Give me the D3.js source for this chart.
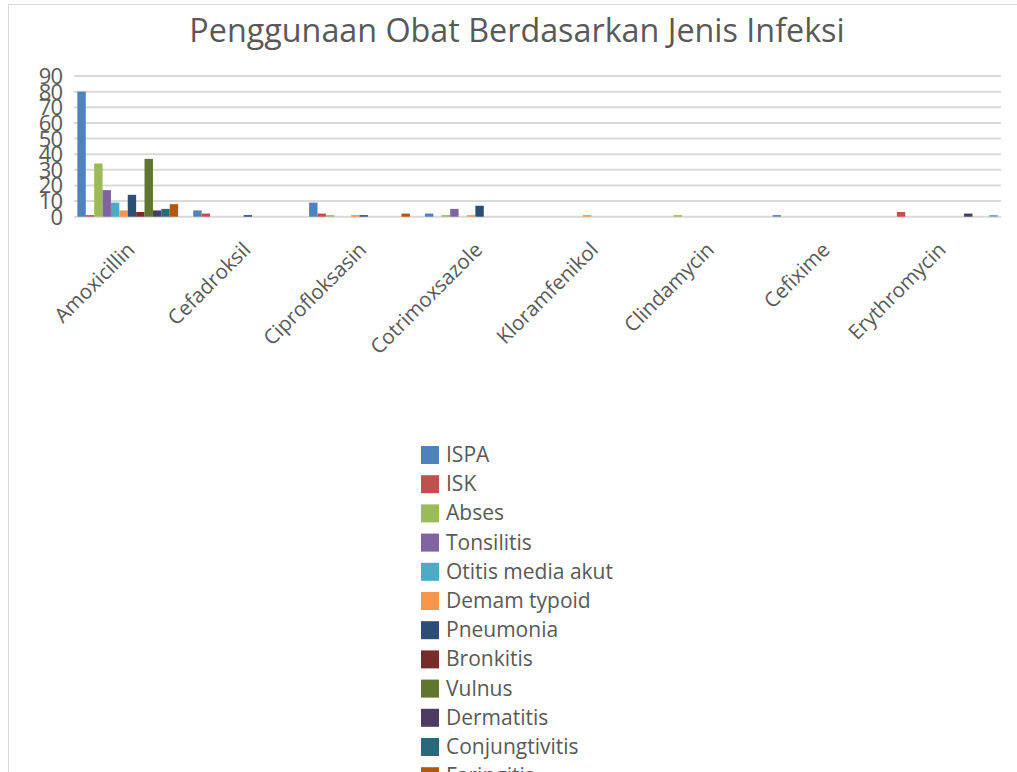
<!DOCTYPE html>
<html>
<head>
<meta charset="utf-8">
<script src="https://cdn.jsdelivr.net/npm/d3@7"></script>
<style>
  body { margin: 0; background: #fff; overflow: hidden; }
  text { font-family: "Open Sans", sans-serif; fill: #595959; }
</style>
</head>
<body>
<svg id="chart" width="1017" height="772"></svg>
<script>
var categories = ["Amoxicillin", "Cefadroksil", "Ciprofloksasin", "Cotrimoxsazole",
    "Kloramfenikol", "Clindamycin", "Cefixime", "Erythromycin"];

var seriesNames = ["ISPA", "ISK", "Abses", "Tonsilitis", "Otitis media akut", "Demam typoid",
    "Pneumonia", "Bronkitis", "Vulnus", "Dermatitis", "Conjungtivitis", "Faringitis", "Lainnya"];

var seriesColors = ["#4f81bd", "#c0504d", "#9bbb59", "#8064a2", "#4bacc6", "#f79646",
    "#2c4d75", "#772c2a", "#5f7530", "#4d3b62", "#276a7c", "#b65708", "#729aca"];

// one row per series, one value per category
var ispa           = [80, 4, 9, 2, 0, 0, 1, 0];
var isk            = [1, 2, 2, 0, 0, 0, 0, 3];
var abses          = [34, 0, 1, 1, 0, 1, 0, 0];
var tonsilitis     = [17, 0, 0, 5, 0, 0, 0, 0];
var otitis         = [9, 0, 0, 0, 0, 0, 0, 0];
var demam          = [4, 0, 1, 1, 1, 0, 0, 0];
var pneumonia      = [14, 1, 1, 7, 0, 0, 0, 0];
var bronkitis      = [3, 0, 0, 0, 0, 0, 0, 0];
var vulnus         = [37, 0, 0, 0, 0, 0, 0, 0];
var dermatitis     = [4, 0, 0, 0, 0, 0, 0, 2];
var conjungtivitis = [5, 0, 0, 0, 0, 0, 0, 0];
var faringitis     = [8, 0, 2, 0, 0, 0, 0, 0];
var lainnya        = [0, 0, 0, 0, 0, 0, 0, 1];

var yTicks = [0, 10, 20, 30, 40, 50, 60, 70, 80, 90];

var values = [ispa, isk, abses, tonsilitis, otitis, demam, pneumonia, bronkitis,
    vulnus, dermatitis, conjungtivitis, faringitis, lainnya];

var svg = d3.select("#chart");

// chart area border
svg.append("path")
    .attr("d", "M8.5,772 V4.5 H1017")
    .attr("fill", "none")
    .attr("stroke", "#d9d9d9")
    .attr("stroke-width", 1);

svg.append("text")
    .attr("x", 517)
    .attr("y", 42)
    .attr("text-anchor", "middle")
    .style("font-size", "32.3px")
    .text("Penggunaan Obat Berdasarkan Jenis Infeksi");

var x0 = d3.scaleBand().domain(categories).range([74, 1001]).padding(0);
var x1 = d3.scaleBand().domain(seriesNames).range([0, x0.bandwidth()])
    .paddingInner(0).paddingOuter(0.4);
var y = d3.scaleLinear().domain([0, 90]).range([216.7, 76]);

// gridlines
svg.append("g").selectAll("line")
    .data(yTicks)
    .enter().append("line")
    .attr("x1", 74).attr("x2", 1001)
    .attr("y1", function(d) { return y(d); })
    .attr("y2", function(d) { return y(d); })
    .attr("stroke", "#d9d9d9")
    .attr("stroke-width", 2);

// y labels
svg.append("g").selectAll("text")
    .data(yTicks)
    .enter().append("text")
    .attr("x", 62)
    .attr("y", function(d) { return y(d) + 8; })
    .attr("text-anchor", "end")
    .style("font-size", "22px")
    .style("letter-spacing", "-1px")
    .text(function(d) { return d; });

// bars
var groups = svg.append("g").selectAll("g")
    .data(categories)
    .enter().append("g")
    .attr("transform", function(d) { return "translate(" + x0(d) + ",0)"; });

groups.selectAll("rect")
    .data(function(c, ci) {
        return seriesNames.map(function(s, si) {
            return { s: s, v: values[si][ci], color: seriesColors[si] };
        });
    })
    .enter().append("rect")
    .filter(function(d) { return d.v > 0; })
    .attr("x", function(d) { return x1(d.s); })
    .attr("width", x1.bandwidth())
    .attr("y", function(d) { return y(d.v); })
    .attr("height", function(d) { return y(0) - y(d.v); })
    .attr("fill", function(d) { return d.color; });

// category labels
svg.append("g").selectAll("text")
    .data(categories)
    .enter().append("text")
    .attr("text-anchor", "end")
    .attr("transform", function(d) {
        return "translate(" + (x0(d) + x0.bandwidth() / 2 + 4) + ",251) rotate(-45)";
    })
    .style("font-size", "20.5px")
    .text(function(d) { return d; });

// legend
var legend = svg.append("g").selectAll("g")
    .data(seriesNames)
    .enter().append("g")
    .attr("transform", function(d, i) { return "translate(421," + (446 + i * 29.2) + ")"; });

legend.append("rect")
    .attr("width", 18).attr("height", 18)
    .attr("fill", function(d, i) { return seriesColors[i]; });

legend.append("text")
    .attr("x", 25)
    .attr("y", 16)
    .style("font-size", "21px")
    .text(function(d) { return d; });
</script>
</body>
</html>
